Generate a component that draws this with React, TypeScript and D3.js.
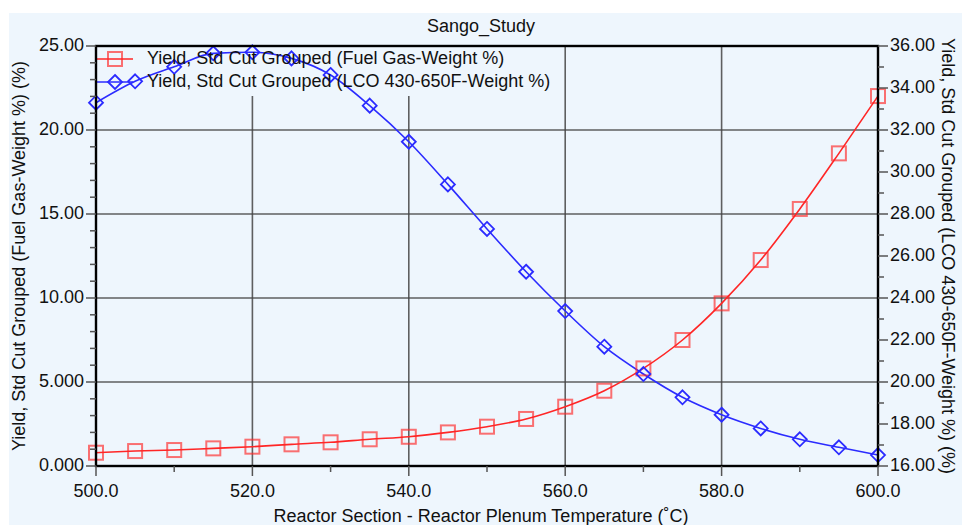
import React from 'react';
import * as d3 from 'd3';

// Reactor plenum temperature (°C)
const temperatures = [500, 505, 510, 515, 520, 525, 530, 535, 540, 545, 550, 555, 560, 565, 570, 575, 580, 585, 590, 595, 600];
// Fuel gas yield (weight %), left axis
const fuelGas = [0.79, 0.89, 0.95, 1.05, 1.15, 1.29, 1.41, 1.59, 1.74, 2.0, 2.34, 2.8, 3.53, 4.48, 5.81, 7.5, 9.68, 12.26, 15.3, 18.61, 22.02];
// LCO 430-650F yield (weight %), right axis
const lco = [33.3, 34.32, 35.01, 35.65, 35.7, 35.41, 34.62, 33.16, 31.44, 29.41, 27.29, 25.25, 23.38, 21.68, 20.38, 19.27, 18.44, 17.79, 17.27, 16.89, 16.52];

const xTicks = [500, 520, 540, 560, 580, 600];
const xTickLabels = ['500.0', '520.0', '540.0', '560.0', '580.0', '600.0'];
const xMinor = [510, 530, 550, 570, 590];
const leftTicks = [0, 5, 10, 15, 20, 25];
const leftTickLabels = ['0.000', '5.000', '10.00', '15.00', '20.00', '25.00'];
const rightTicks = [16, 18, 20, 22, 24, 26, 28, 30, 32, 34, 36];
const rightTickLabels = ['16.00', '18.00', '20.00', '22.00', '24.00', '26.00', '28.00', '30.00', '32.00', '34.00', '36.00'];

const title = 'Sango_Study';
const xTitle = 'Reactor Section - Reactor Plenum Temperature (˚C)';
const leftTitle = 'Yield, Std Cut Grouped (Fuel Gas-Weight %) (%)';
const rightTitle = 'Yield, Std Cut Grouped (LCO 430-650F-Weight %) (%)';
const seriesNames = ['Yield, Std Cut Grouped (Fuel Gas-Weight %)', 'Yield, Std Cut Grouped (LCO 430-650F-Weight %)'];

const W = 962;
const H = 525;
const M = { left: 96, right: 878, top: 46, bottom: 466 };
const FONT = '"Liberation Sans", Arial, sans-serif';
const RED = '#ff2626';
const BLUE = '#2b2bff';
const BG = '#eef6fd';

export default function App() {
  const x = d3.scaleLinear().domain([500, 600]).range([M.left, M.right]);
  const yL = d3.scaleLinear().domain([0, 25]).range([M.bottom, M.top]);
  const yR = d3.scaleLinear().domain([16, 36]).range([M.bottom, M.top]);

  const lineL = d3
    .line<number>()
    .x((_, i) => x(temperatures[i]))
    .y((d) => yL(d))
    .curve(d3.curveMonotoneX);
  const lineR = d3
    .line<number>()
    .x((_, i) => x(temperatures[i]))
    .y((d) => yR(d))
    .curve(d3.curveMonotoneX);

  const leftMinor = d3.range(0, 26, 1).filter((v) => v % 5 !== 0);
  const rightMinor = d3.range(16, 37, 1).filter((v) => v % 2 !== 0);

  const sq = 7;
  const dm = 7;
  const square = (cx: number, cy: number, key: string | number) => (
    <rect key={key} x={cx - sq} y={cy - sq} width={sq * 2} height={sq * 2} fill="none" stroke={RED} strokeOpacity={0.65} strokeWidth={2} />
  );
  const diamond = (cx: number, cy: number, key: string | number) => (
    <path key={key} d={`M${cx},${cy - dm}L${cx + dm},${cy}L${cx},${cy + dm}L${cx - dm},${cy}Z`} fill="none" stroke={BLUE} strokeWidth={1.8} />
  );

  const textStyle = { fontFamily: FONT, fontSize: 18, fill: '#111' } as const;
  const cy = (M.top + M.bottom) / 2;

  return (
    <svg width={W} height={H} style={{ position: 'absolute', left: 0, top: 0, background: '#fff' }}>
      <rect x={9} y={13} width={W - 9} height={H - 13} fill={BG} />

      <text x={481} y={27} textAnchor="middle" dominantBaseline="middle" style={textStyle}>{title}</text>

      {/* grid */}
      {xTicks.slice(1, -1).map((t) => (
        <line key={'gx' + t} x1={x(t)} x2={x(t)} y1={M.top} y2={M.bottom} stroke="#444" strokeOpacity={0.85} strokeWidth={1.6} />
      ))}
      {leftTicks.slice(1, -1).map((t) => (
        <line key={'gy' + t} x1={M.left} x2={M.right} y1={yL(t)} y2={yL(t)} stroke="#444" strokeOpacity={0.85} strokeWidth={1.6} />
      ))}

      {/* legend box */}
      <rect x={M.left} y={M.top} width={462} height={50} fill={BG} />

      {/* series */}
      <path d={lineL(fuelGas) || ''} fill="none" stroke={RED} strokeWidth={1.6} />
      <path d={lineR(lco) || ''} fill="none" stroke={BLUE} strokeWidth={1.6} />
      {fuelGas.map((v, i) => square(x(temperatures[i]), yL(v), 's' + i))}
      {lco.map((v, i) => diamond(x(temperatures[i]), yR(v), 'd' + i))}

      {/* legend */}
      <line x1={M.left + 1} x2={133} y1={59} y2={59} stroke={RED} strokeWidth={1.6} />
      {square(115, 59, 'ls')}
      <text x={147} y={59} dominantBaseline="middle" style={textStyle}>{seriesNames[0]}</text>
      <line x1={M.left + 1} x2={133} y1={82} y2={82} stroke={BLUE} strokeWidth={1.6} />
      {diamond(115, 82, 'ld')}
      <text x={147} y={82} dominantBaseline="middle" style={textStyle}>{seriesNames[1]}</text>

      {/* frame */}
      <rect x={M.left} y={M.top} width={M.right - M.left} height={M.bottom - M.top} fill="none" stroke="#000" strokeWidth={2.4} />

      {/* left axis */}
      {leftTicks.map((t, i) => (
        <g key={'lt' + t}>
          <line x1={M.left - 10} x2={M.left} y1={yL(t)} y2={yL(t)} stroke="#555" strokeWidth={1.5} />
          <text x={84} y={yL(t)} textAnchor="end" dominantBaseline="middle" style={textStyle}>{leftTickLabels[i]}</text>
        </g>
      ))}
      {leftMinor.map((t) => (
        <line key={'lm' + t} x1={M.left - 6} x2={M.left} y1={yL(t)} y2={yL(t)} stroke="#555" strokeWidth={1.5} />
      ))}

      {/* right axis */}
      {rightTicks.map((t, i) => (
        <g key={'rt' + t}>
          <line x1={M.right} x2={M.right + 10} y1={yR(t)} y2={yR(t)} stroke="#555" strokeWidth={1.5} />
          <text x={890} y={yR(t)} textAnchor="start" dominantBaseline="middle" style={textStyle}>{rightTickLabels[i]}</text>
        </g>
      ))}
      {rightMinor.map((t) => (
        <line key={'rm' + t} x1={M.right} x2={M.right + 6} y1={yR(t)} y2={yR(t)} stroke="#555" strokeWidth={1.5} />
      ))}

      {/* bottom axis */}
      {xTicks.map((t, i) => (
        <g key={'xt' + t}>
          <line x1={x(t)} x2={x(t)} y1={M.bottom} y2={M.bottom + 10} stroke="#555" strokeWidth={1.5} />
          <text x={x(t)} y={492} textAnchor="middle" dominantBaseline="middle" style={textStyle}>{xTickLabels[i]}</text>
        </g>
      ))}
      {xMinor.map((t) => (
        <line key={'xm' + t} x1={x(t)} x2={x(t)} y1={M.bottom} y2={M.bottom + 6} stroke="#555" strokeWidth={1.5} />
      ))}

      <text x={481} y={517} textAnchor="middle" dominantBaseline="middle" style={textStyle}>{xTitle}</text>
      <text transform={`translate(20,${cy}) rotate(-90)`} textAnchor="middle" dominantBaseline="middle" style={textStyle}>{leftTitle}</text>
      <text transform={`translate(947,${cy}) rotate(90)`} textAnchor="middle" dominantBaseline="middle" style={textStyle}>{rightTitle}</text>
    </svg>
  );
}
